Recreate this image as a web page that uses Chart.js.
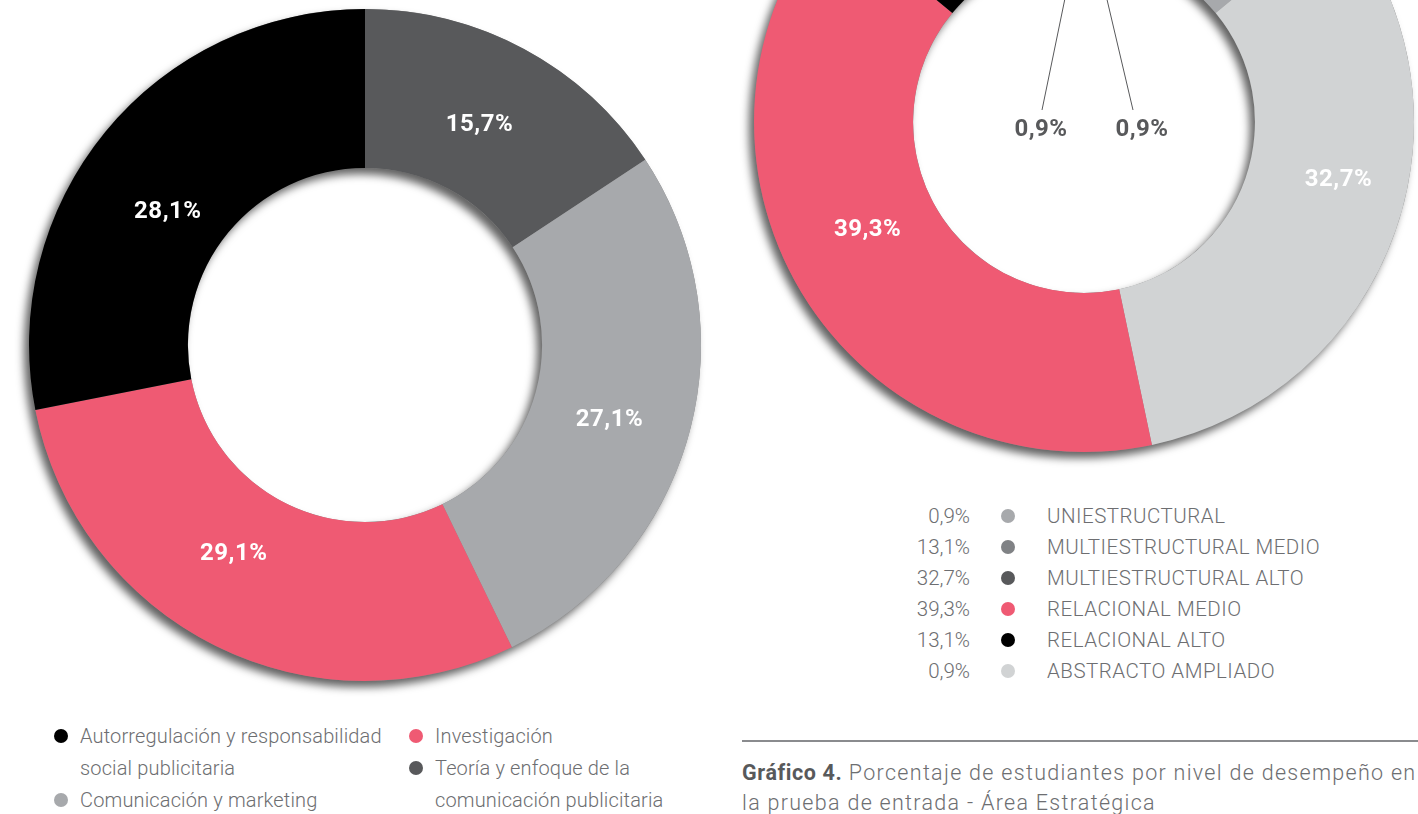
<!DOCTYPE html>
<html lang="es">
<head>
<meta charset="utf-8">
<title>Gráfico 4</title>
<script src="https://cdn.jsdelivr.net/npm/chart.js@4.4.1/dist/chart.umd.min.js"></script>
<style>
    html, body {
        margin: 0;
        padding: 0;
        background: #ffffff;
    }

    #page {
        position: relative;
        width: 1418px;
        height: 814px;
        overflow: hidden;
        font-family: Roboto, "Noto Sans", sans-serif;
        font-weight: 300;
        color: #6d6e71;
    }

    .chartBox {
        position: absolute;
    }

    #areasLegend {
        position: absolute;
        left: 54px;
        top: 720px;
        display: flex;
        font-size: 20px;
        letter-spacing: 0.15px;
        line-height: 32px;
    }

    #areasLegend .col {
        width: 355px;
    }

    #areasLegend .item {
        display: flex;
        align-items: flex-start;
    }

    .dot {
        flex: none;
        width: 14px;
        height: 14px;
        border-radius: 50%;
        margin-top: 9px;
        margin-right: 12px;
    }

    #levelsLegend {
        position: absolute;
        left: 890px;
        top: 501px;
        font-size: 20.5px;
        line-height: 31px;
    }

    #levelsLegend .row {
        display: flex;
        align-items: flex-start;
    }

    #levelsLegend .val {
        width: 80px;
        text-align: right;
        margin-right: 31px;
    }

    #levelsLegend .name {
        letter-spacing: 0.5px;
    }

    #levelsLegend .dot {
        margin-top: 8px;
        margin-right: 32px;
    }

    #rule {
        position: absolute;
        left: 742px;
        top: 740px;
        width: 680px;
        height: 2px;
        background: #8a8b8e;
    }

    #caption {
        position: absolute;
        left: 742px;
        top: 758px;
        font-size: 21.5px;
        line-height: 30px;
        letter-spacing: 1.3px;
        white-space: nowrap;
    }

    #caption b {
        font-weight: 700;
        color: #58595b;
        letter-spacing: 0.6px;
    }
</style>
</head>
<body>
<div id="page">

    <div class="chartBox" style="left:5px; top:-15px;">
        <canvas id="areasChart" width="720" height="720"></canvas>
    </div>

    <div class="chartBox" style="left:730px; top:-232px;">
        <canvas id="levelsChart" width="708" height="708"></canvas>
    </div>

    <div id="areasLegend"></div>
    <div id="levelsLegend"></div>

    <div id="rule"></div>
    <div id="caption"><b>Gráfico 4.</b> Porcentaje de estudiantes por nivel de desempeño en<br>la prueba de entrada - Área Estratégica</div>

</div>

<script>
// left chart, slices in clockwise order from 12 o'clock
const areaLabels = [
    ["Teoría y enfoque de la", "comunicación publicitaria"],
    ["Comunicación y marketing"],
    ["Investigación"],
    ["Autorregulación y responsabilidad", "social publicitaria"]
];
const areaValues = [15.7, 27.1, 29.1, 28.1];
const areaColors = ["#58595b", "#a7a9ac", "#ef5a73", "#000000"];
// legend reading order (two columns)
const areaLegendOrder = [[3, 1], [2, 0]];

// right chart, clockwise from 12 o'clock
const levelLabels = [
    "UNIESTRUCTURAL",
    "MULTIESTRUCTURAL MEDIO",
    "MULTIESTRUCTURAL ALTO",
    "RELACIONAL MEDIO",
    "RELACIONAL ALTO",
    "ABSTRACTO AMPLIADO"
];
const levelValues = [0.9, 13.1, 32.7, 39.3, 13.1, 0.9];
const levelSliceColors = ["#808285", "#a7a9ac", "#d1d3d4", "#ef5a73", "#000000", "#58595b"];
const levelDotColors = ["#a7a9ac", "#808285", "#58595b", "#ef5a73", "#000000", "#d1d3d4"];

function pct(v) {
    return v.toFixed(1).replace(".", ",") + "%";
}

// grey drop shadow under the whole ring
const ringShadow = {

    id: "ringShadow",

    beforeDatasetsDraw(chart) {

        const arc = chart.getDatasetMeta(0).data[0];

        if (!arc) {
            return;
        }

        const ctx = chart.ctx;

        ctx.save();
        ctx.shadowColor = "rgba(0, 0, 0, 0.62)";
        ctx.shadowBlur = 9;
        ctx.shadowOffsetX = -5;
        ctx.shadowOffsetY = 6;
        ctx.fillStyle = "#888888";
        ctx.beginPath();
        ctx.arc(arc.x, arc.y, arc.outerRadius, 0, Math.PI * 2);
        ctx.arc(arc.x, arc.y, arc.innerRadius, 0, Math.PI * 2, true);
        ctx.fill();
        ctx.restore();

    }

};

// percentage labels, inside the slice or pulled into the hole with a line
const sliceLabels = {

    id: "sliceLabels",

    afterDatasetsDraw(chart, args, opts) {

        const ctx = chart.ctx;
        const meta = chart.getDatasetMeta(0);
        const values = chart.data.datasets[0].data;
        const callouts = opts.callouts || {};
        const nudge = opts.nudge || {};

        meta.data.forEach(function (arc, i) {

            const c = arc.getCenterPoint();
            const call = callouts[i];
            const n = nudge[i] || [0, 0];

            ctx.save();
            ctx.font = "bold 24px Roboto";
            ctx.letterSpacing = "0.5px";
            ctx.textAlign = "center";
            ctx.textBaseline = "middle";

            if (call) {

                ctx.strokeStyle = "#58595b";
                ctx.lineWidth = 1;
                ctx.beginPath();
                ctx.moveTo(arc.x + call.lx, arc.y + call.ly);
                ctx.lineTo(c.x, c.y);
                ctx.stroke();

                ctx.fillStyle = "#58595b";
                ctx.fillText(pct(values[i]), arc.x + call.dx, arc.y + call.dy);

            } else {

                ctx.fillStyle = "#ffffff";
                ctx.fillText(pct(values[i]), c.x + n[0], c.y + 2 + n[1]);

            }

            ctx.restore();

        });

    }

};

function makeDoughnut(id, labels, values, colors, cutout, labelOpts) {

    const ctx = document.getElementById(id).getContext("2d");

    return new Chart(ctx, {

        type: "doughnut",

        data: {

            labels: labels,

            datasets: [
                {
                    data: values,
                    backgroundColor: colors,
                    borderWidth: 0,
                    hoverBorderWidth: 0,
                    hoverOffset: 0
                }
            ]

        },

        options: {

            responsive: false,
            animation: false,
            cutout: cutout,
            rotation: 0,

            layout: {
                padding: 24
            },

            events: [],

            plugins: {
                legend: {
                    display: false
                },
                tooltip: {
                    enabled: false
                },
                sliceLabels: labelOpts
            }

        },

        plugins: [ringShadow, sliceLabels]

    });

}

function buildAreasLegend() {

    const box = document.getElementById("areasLegend");

    areaLegendOrder.forEach(function (col) {

        const colDiv = document.createElement("div");
        colDiv.className = "col";

        col.forEach(function (i) {

            const item = document.createElement("div");
            item.className = "item";
            item.innerHTML = '<span class="dot" style="background:' + areaColors[i] + '"></span>' +
                "<span>" + areaLabels[i].join("<br>") + "</span>";
            colDiv.appendChild(item);

        });

        box.appendChild(colDiv);

    });

}

function buildLevelsLegend() {

    const box = document.getElementById("levelsLegend");

    levelLabels.forEach(function (label, i) {

        const row = document.createElement("div");
        row.className = "row";
        row.innerHTML = '<span class="val">' + pct(levelValues[i]) + "</span>" +
            '<span class="dot" style="background:' + levelDotColors[i] + '"></span>' +
            '<span class="name">' + label + "</span>";
        box.appendChild(row);

    });

}

makeDoughnut("areasChart", areaLabels, areaValues, areaColors, "52.7%", {
    nudge: {
        0: [-7, 4],
        1: [-3, 5],
        2: [-17, -23],
        3: [1, 28]
    }
});

makeDoughnut("levelsChart", levelLabels, levelValues, levelSliceColors, "51.8%", {
    callouts: {
        0: { dx: -43, dy: 8, lx: -42, ly: -12 },
        5: { dx: 58, dy: 8, lx: 49, ly: -12 }
    },
    nudge: {
        2: [18, -27],
        3: [-2, -24]
    }
});

buildAreasLegend();
buildLevelsLegend();
</script>
</body>
</html>
